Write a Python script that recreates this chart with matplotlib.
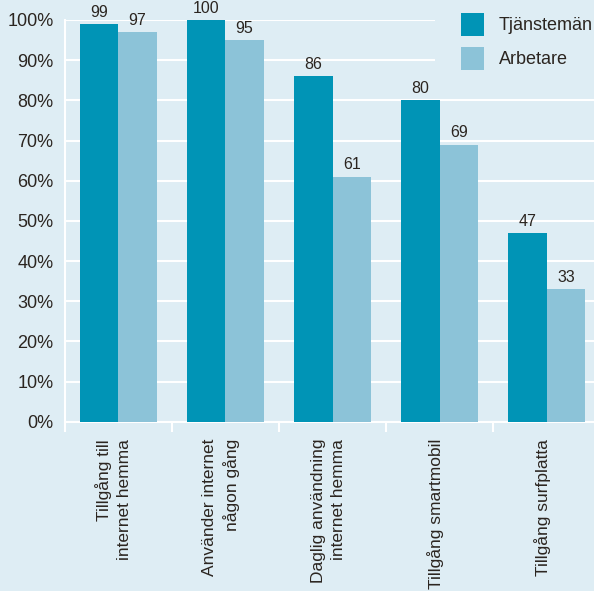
import matplotlib
matplotlib.use("Agg")
import matplotlib.pyplot as plt
import numpy as np
from matplotlib.patches import Rectangle

categories = ["Tillgång till\ninternet hemma", "Använder internet\nnågon gång",
              "Daglig användning\ninternet hemma", "Tillgång smartmobil", "Tillgång surfplatta"]
series_names = ["Tjänstemän", "Arbetare"]
tjanstemen = [99, 100, 86, 80, 47]
arbetare = [97, 95, 61, 69, 33]
yticks = [0, 10, 20, 30, 40, 50, 60, 70, 80, 90, 100]

bg = "#deedf4"
c1 = "#0094b6"
c2 = "#8cc3d8"
tc = "#2b2520"

plt.rcParams['font.family'] = ['Liberation Sans', 'DejaVu Sans']

W, H = 594, 591
fig = plt.figure(figsize=(W/100, H/100), dpi=100, facecolor=bg)
left, right = 64.5, 600.5
bottom_px, top_px = 421.7, 20.0
ax = fig.add_axes([left/W, 1 - bottom_px/H, (right-left)/W, (bottom_px-top_px)/H])
ax.set_facecolor(bg)

x = np.arange(len(categories))
bw = 0.36
b1 = ax.bar(x - bw/2, tjanstemen, bw, color=c1, zorder=3)
b2 = ax.bar(x + bw/2, arbetare, bw, color=c2, zorder=3)
for bars, vals in ((b1, tjanstemen), (b2, arbetare)):
    for r, v in zip(bars, vals):
        ax.annotate(str(v), (r.get_x() + r.get_width()/2, v), xytext=(0, 3),
                    textcoords="offset points", ha="center", va="bottom",
                    fontsize=11.5, color=tc, annotation_clip=False)

ax.set_xlim(-0.5, 4.5)
ax.set_ylim(0, 100)
ax.set_yticks(yticks)
ax.set_yticklabels([f"{t}%" for t in yticks], fontsize=13, color=tc)
ax.yaxis.grid(True, color="white", linewidth=1.5, zorder=0)
ax.tick_params(axis="y", length=0, pad=8)

ax.set_xticks(x)
ax.set_xticklabels([])
ax.tick_params(axis="x", which="major", length=0)
ax.set_xticks(np.arange(-0.5, 5.0, 1), minor=True)
ax.tick_params(axis="x", which="minor", length=7, color="white", width=1.5)

for s in ["top", "right"]:
    ax.spines[s].set_visible(False)
ax.spines["left"].set_color("white")
ax.spines["left"].set_linewidth(1.5)
ax.spines["bottom"].set_color("white")
ax.spines["bottom"].set_linewidth(1.5)

for xi, lab in zip(x, categories):
    ax.text(xi - 0.04, -4.3, lab, rotation=90, ha="center", va="top",
            multialignment="right", fontsize=12.5, color=tc,
            transform=ax.transData, linespacing=1.45)

# legend drawn in figure pixel coordinates
def fx(px):
    return px / W

def fy(py):
    return 1 - py / H

fig.patches.append(Rectangle((fx(435), fy(82)), fx(594) - fx(435) + 0.01, fy(0) - fy(82) + 0.01,
                             transform=fig.transFigure, facecolor=bg, edgecolor="none", zorder=5))
for i, (name, col) in enumerate(zip(series_names, [c1, c2])):
    top = 13 + i * 34
    fig.patches.append(Rectangle((fx(461), fy(top + 23)), 23 / W, 23 / H,
                                 transform=fig.transFigure, facecolor=col,
                                 edgecolor="none", zorder=6))
    fig.text(fx(499), fy(top + 12), name, ha="left", va="center",
             fontsize=13, color=tc, zorder=7)

fig.savefig("out.png", dpi=100, facecolor=bg)
